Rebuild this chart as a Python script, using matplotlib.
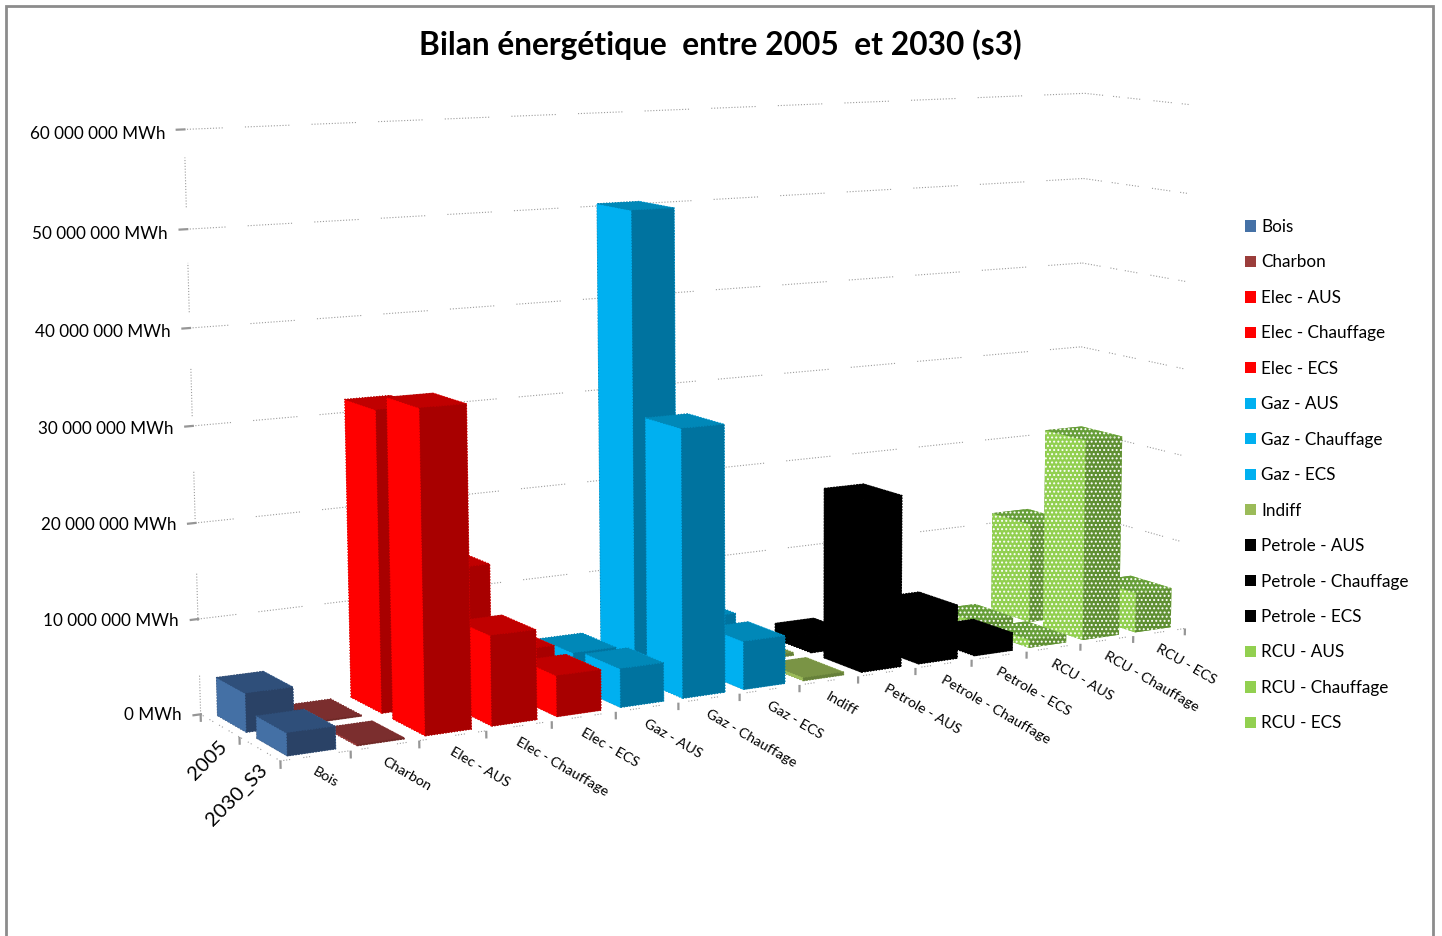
import matplotlib
matplotlib.use("Agg")
import numpy as np
import matplotlib.pyplot as plt
from matplotlib.lines import Line2D
from matplotlib.patches import Patch
from matplotlib.transforms import offset_copy, IdentityTransform
from mpl_toolkits.mplot3d import proj3d
from mpl_toolkits.mplot3d.art3d import Line3DCollection

plt.rcParams['font.family'] = ['Lato', 'DejaVu Sans']
plt.rcParams['hatch.color'] = 'white'
plt.rcParams['hatch.linewidth'] = 0.9

W, H = 1442, 936

# Energy balance per use, in MWh
categories = ['Bois', 'Charbon', 'Elec - AUS', 'Elec - Chauffage', 'Elec - ECS',
              'Gaz - AUS', 'Gaz - Chauffage', 'Gaz - ECS', 'Indiff',
              'Petrole - AUS', 'Petrole - Chauffage', 'Petrole - ECS',
              'RCU - AUS', 'RCU - Chauffage', 'RCU - ECS']
scenarios = ['2030_S3', '2005']
values_2030 = [2.3e6, 0.1e6, 33.3e6, 9.4e6, 4.3e6, 4.1e6, 28.7e6, 5.2e6, 0.3e6,
               19.0e6, 6.0e6, 2.0e6, 0.9e6, 22.9e6, 4.6e6]
values_2005 = [4.0e6, 0.1e6, 31.6e6, 14.3e6, 4.7e6, 3.6e6, 50.4e6, 5.6e6, 0.3e6,
               1.8e6, 2.5e6, 1.0e6, 0.9e6, 11.5e6, 4.0e6]
z_ticks = [0, 10_000_000, 20_000_000, 30_000_000, 40_000_000, 50_000_000, 60_000_000]

family_colors = {  # bright side, top, dark side, legend
    'Bois': ('#4470a5', '#2f4f7a', '#2a4266', '#4571a6'),
    'Charbon': ('#9b3d3b', '#7b2e2e', '#6e2826', '#9b3d3b'),
    'Elec': ('#ff0000', '#c00000', '#a80000', '#ff0000'),
    'Gaz': ('#00b0f0', '#0088b8', '#00739f', '#00b0f0'),
    'Indiff': ('#9bbb59', '#7a9445', '#66803a', '#9bbb59'),
    'Petrole': ('#000000', '#000000', '#000000', '#000000'),
    'RCU': ('#92d050', '#669e38', '#5f8f32', '#92d050'),
}
bar_left, bar_dx = 0.175, 0.69
bar_front, bar_dy = 0.13, 0.74

# Camera calibration: floor, back wall and right wall reference points -> canvas pixels
floor_px = [(280, 762), (351, 752), (420, 741), (487, 732), (552, 722), (617, 712),
            (678, 703), (739, 694), (799, 685), (858, 676), (917, 667), (971, 659),
            (1027, 652), (1079, 643), (1132, 635), (1184, 627)]
wall_refs = [((0, 2, 0), (201, 713)), ((0, 1, 0), (238, 737)),
             ((0, 2, 10), (198, 616)), ((0, 2, 20), (195, 522)),
             ((0, 2, 30), (192, 426)), ((0, 2, 40), (190, 328)),
             ((0, 2, 50), (187, 229)), ((0, 2, 60), (184, 131)),
             ((15, 2, 0), (1080, 598)), ((15, 2, 60), (1083, 93)),
             ((15, 0, 60), (1197, 105))]
refs = [((i, 0, 0), p) for i, p in enumerate(floor_px)] + wall_refs


def solve_camera(pairs):
    rows = []
    for (x, y, z), (u, v) in pairs:
        u, v = u / 1000.0, v / 1000.0
        rows.append([x, y, z, 1, 0, 0, 0, 0, -u * x, -u * y, -u * z, -u])
        rows.append([0, 0, 0, 0, x, y, z, 1, -v * x, -v * y, -v * z, -v])
    P = np.linalg.svd(np.array(rows, float))[2][-1].reshape(3, 4)
    if P[2] @ np.array([0, 0, 0, 1.0]) < 0:
        P = -P
    P[:2] *= 1000.0
    return P


camera = solve_camera(refs)

fig = plt.figure(figsize=(W / 100, H / 100), dpi=100, facecolor='white')
ax = fig.add_axes([0, 0, 1, 1], projection='3d')
ax.set_axis_off()
ax.patch.set_alpha(0)
ax.computed_zorder = False
ax.apply_aspect = lambda position=None: None


def camera_proj():
    x0, x1 = ax.viewLim.intervalx
    y0, y1 = ax.viewLim.intervaly
    h3 = camera[2]
    row_x = x0 * h3 + (x1 - x0) / W * camera[0]
    row_y = y1 * h3 - (y1 - y0) / H * camera[1]
    row_d = np.array([0.02, 0.5, -0.003, 1.0])
    return np.vstack([row_x, row_y, row_d, h3])


ax.get_proj = camera_proj

GRID = '#9c9c9c'
TICK = '#969696'
run = [1, 1.6]
grid_dash = (0, tuple(run * 13 + [1, 20] + run * 6 + [1, 24] + run * 9 + [1, 34] + run * 4 + [1, 12]))
side_dash = (0, tuple(run * 6 + [1, 9] + run * 2 + [1, 7] + run * 4 + [1, 12]))
floor_dash = (0, tuple(run * 3 + [1, 12] + run * 2 + [1, 26]))
wall_runs = [(0, 4.2), (9.8, 14.8), (20.4, 25.4), (31.0, 36.0), (41.6, 46.6), (52.2, 57.2)]
px = 0.8


def seg(p0, p1, color=GRID, lw=px, ls='solid'):
    col = Line3DCollection([[p0, p1]], colors=color, linewidths=lw, linestyles=ls, zorder=1)
    ax.add_collection3d(col)


# Gridlines on the back and right walls
for t in z_ticks[1:]:
    z = t / 1e6
    seg((0, 2, z), (15, 2, z), ls=grid_dash)
    seg((15, 2, z), (15, 0, z), ls=side_dash)
for lo, hi in wall_runs:
    seg((0, 2, lo), (0, 2, hi), ls=(0, (1, 1.6)))
seg((0, 0, 0), (15, 0, 0), ls=floor_dash)
seg((0, 0, 0), (0, 2, 0), ls=(0, (1, 2, 1, 6)))

# Tick marks
for i in range(len(categories) + 1):
    seg((i, 0, 0), (i, 0, -0.8), color=TICK, lw=1.6)
for d in (1, 2):
    seg((0, d, 0), (0, d, -0.8), color=TICK, lw=1.6)
for t in z_ticks:
    seg((-0.12, 2, t / 1e6), (0.02, 2, t / 1e6), color=TICK, lw=1.6)

# Columns, painted from the far corner towards the viewer
order = 2
for row, vals in ((1, values_2005), (0, values_2030)):
    for i in range(len(categories) - 1, -1, -1):
        family = categories[i].split(' - ')[0]
        bright, top, dark, _ = family_colors[family]
        faces = [top, top, dark, dark, bright, bright]
        if family == 'RCU':
            extra = dict(hatch='....', edgecolor='white', linewidth=0)
        else:
            extra = dict(edgecolor=faces, linewidth=0.8, linestyle=(0, (1, 1.6)))
        col = ax.bar3d(i + bar_left, row + bar_front, 0,
                       bar_dx, bar_dy, vals[i] / 1e6,
                       color=faces, shade=False, **extra)
        col.set_zorder(order)
        order += 1


def label_at(x, y, z, text, dx, dy, **kw):
    # Labels keep their own rotation, so they are placed in projected coordinates
    xp, yp, _ = proj3d.proj_transform(x, y, z, camera_proj())
    tr = offset_copy(ax.transData, fig=fig, x=dx, y=dy, units='dots')
    ax.text2D(xp, yp, text, transform=tr, color='black', zorder=order + 1, **kw)


# Axis labels
for i, name in enumerate(categories):
    label_at(i + 0.5, 0, 0, name, -2, -15, fontsize=10.4, rotation=-30,
             rotation_mode='anchor', ha='left', va='center')
for d, name in enumerate(scenarios):
    label_at(0, d + 0.5, 0, name, 5, -18, fontsize=14.5, rotation=45,
             rotation_mode='anchor', ha='right', va='center')
for t in z_ticks:
    label = f"{t:,}".replace(',', ' ') + ' MWh'
    label_at(0, 2, t / 1e6, label, -19, -1 - t / 15e6, fontsize=12.3, ha='right', va='center')

# Legend
handles = [Patch(facecolor=family_colors[c.split(' - ')[0]][3], edgecolor='none')
           for c in categories]
fig.legend(handles, categories, loc='upper left', bbox_to_anchor=(1245 / W, 1 - 219 / H),
           frameon=False, fontsize=12.3, borderpad=0, borderaxespad=0,
           handlelength=0.64, handleheight=0.64, handletextpad=0.3,
           labelspacing=1.139)

fig.text(720 / W, 1 - 45 / H, 'Bilan énergétique  entre 2005  et 2030 (s3)',
         fontsize=22.9, fontweight='bold', ha='center', va='center', color='black')

# Chart frame, open at the canvas bottom
frame = Line2D([6, 6, 1433, 1433], [0, H - 6, H - 6, 0], color='#8c8c8c', lw=2,
               transform=IdentityTransform(), solid_joinstyle='miter')
fig.add_artist(frame)

fig.savefig('out.png', dpi=100)
